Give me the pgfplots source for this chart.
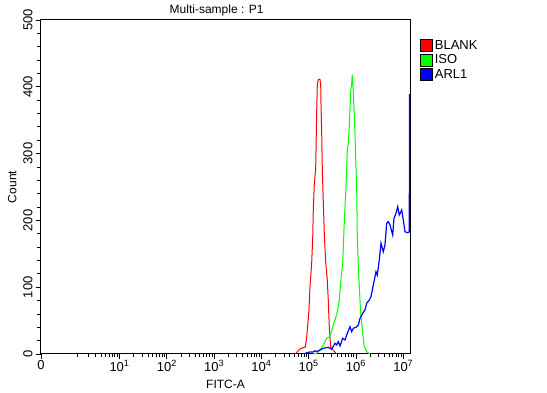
\documentclass[border=0pt]{standalone}
\usepackage{pgfplots}
\pgfplotsset{compat=1.18}
\usepackage{fontspec}
\setmainfont{Liberation Sans}
\begin{document}
\begin{tikzpicture}[x=1pt,y=1pt]
\path[use as bounding box] (0,0) rectangle (547,393);
\begin{axis}[
 at={(41pt,39pt)}, anchor=south west,
 width=369pt, height=334pt, scale only axis,
 xmin=-0.660, xmax=7.142, ymin=0, ymax=500,
 /pgf/number format/assume math mode=true,
 xtick={-0.660,1,2,3,4,5,6,7},
 xticklabels={0,10\textsuperscript{1},10\textsuperscript{2},10\textsuperscript{3},10\textsuperscript{4},10\textsuperscript{5},10\textsuperscript{6},10\textsuperscript{7}},
 minor xtick={0.10,0.35,0.50,0.62,0.71,0.78,0.84,0.90,0.95,
  1.301,1.477,1.602,1.699,1.778,1.845,1.903,1.954,
  2.301,2.477,2.602,2.699,2.778,2.845,2.903,2.954,
  3.301,3.477,3.602,3.699,3.778,3.845,3.903,3.954,
  4.301,4.477,4.602,4.699,4.778,4.845,4.903,4.954,
  5.301,5.477,5.602,5.699,5.778,5.845,5.903,5.954,
  6.301,6.477,6.602,6.699,6.778,6.845,6.903,6.954},
 ytick={0,100,...,500}, minor y tick num=4,
 tick align=outside, xtick pos=bottom, ytick pos=left,
 major tick length=5pt, minor tick length=3.5pt,
 every tick/.style={black, line width=0.8pt},
 axis line style={black, line width=1pt},
 ticklabel style={font=\fontsize{13}{13}\selectfont},
 yticklabel style={rotate=90, anchor=south},
 xticklabel style={yshift=2pt},
 title={Multi-sample : P1},
 title style={at={(axis description cs:0.476,1)}, anchor=south, yshift=-6pt, font=\fontsize{12}{12}\selectfont},
 xlabel={FITC-A},
 xlabel style={font=\fontsize{12}{12}\selectfont, yshift=-2pt},
 ylabel={Count},
 ylabel style={font=\fontsize{12}{12}\selectfont},
 legend style={at={(rel axis cs:1.027,0.946)}, anchor=north west, draw=none, fill=none,
   font=\fontsize{13}{13}\selectfont, row sep=0pt, inner sep=0pt},
 legend cell align=left,
]
\addplot[red, line width=1pt, legend image code/.code={\draw[fill=red,draw=black,line width=0.7pt] (0pt,-6pt) rectangle (12pt,6pt);}] coordinates {
(4.710,0) (4.753,3.0) (4.816,7.5) (4.865,9.0) (4.928,10.5) (4.958,25.4) (4.979,43.4)
(5.006,65.9) (5.027,100.3) (5.063,136.2) (5.085,173.7) (5.097,215.6) (5.118,253.0)
(5.148,278.4) (5.169,362.3) (5.182,402.7) (5.203,411.2) (5.239,411.2) (5.254,402.7)
(5.260,375.7) (5.275,330.8) (5.288,275.4) (5.309,226.0) (5.330,181.1) (5.359,137.7)
(5.393,110.8) (5.414,80.8) (5.436,38.9) (5.465,10.5) (5.514,6.0) (5.592,0)
};
\addlegendentry{BLANK}
\addplot[green, line width=1pt, legend image code/.code={\draw[fill=green,draw=black,line width=0.7pt] (0pt,-6pt) rectangle (12pt,6pt);}] coordinates {
(5.091,0) (5.169,1.0) (5.239,6.0) (5.309,13.5) (5.381,23.5) (5.450,25.9) (5.520,43.4)
(5.577,55.8) (5.613,65.9) (5.647,80.8) (5.677,108.2) (5.719,136.2) (5.746,185.6)
(5.774,230.5) (5.789,248.5) (5.816,305.4) (5.837,315.9) (5.858,340.3) (5.873,368.3)
(5.888,392.7) (5.909,405.2) (5.922,417.7) (5.930,407.6) (5.943,392.7) (5.958,367.8)
(5.979,330.4) (5.994,293.0) (6.015,245.5) (6.027,180.7) (6.049,130.7) (6.070,100.7)
(6.099,60.9) (6.142,31.0) (6.175,10.9) (6.226,3.4) (6.296,0)
};
\addlegendentry{ISO}
\addplot[blue, line width=1.2pt, legend image code/.code={\draw[fill=blue,draw=black,line width=0.7pt] (0pt,-6pt) rectangle (12pt,6pt);}] coordinates {
(4.922,1.0) (5.027,3.0) (5.097,3.0) (5.133,4.9) (5.169,3.4) (5.239,6.0) (5.309,8.5)
(5.414,10.0) (5.486,7.0) (5.556,16.0) (5.592,13.5) (5.626,18.4) (5.662,12.0)
(5.719,23.5) (5.767,21.0) (5.816,31.0) (5.873,40.9) (5.909,33.4) (5.943,38.5)
(6.000,40.0) (6.049,43.4) (6.085,53.4) (6.142,60.9) (6.190,65.9) (6.226,75.9)
(6.281,80.8) (6.317,85.8) (6.366,103.3) (6.423,123.2) (6.450,118.3) (6.493,140.7)
(6.529,165.7) (6.577,153.1) (6.613,163.2) (6.649,195.7) (6.683,198.1) (6.719,193.1)
(6.776,178.1) (6.803,203.1) (6.846,210.6) (6.882,220.5) (6.915,208.1) (6.966,215.6)
(7.000,200.6) (7.036,183.1) (7.085,181.6) (7.127,182.6) (7.131,389.2)
};
\addlegendentry{ARL1}
\end{axis}
\end{tikzpicture}
\end{document}
